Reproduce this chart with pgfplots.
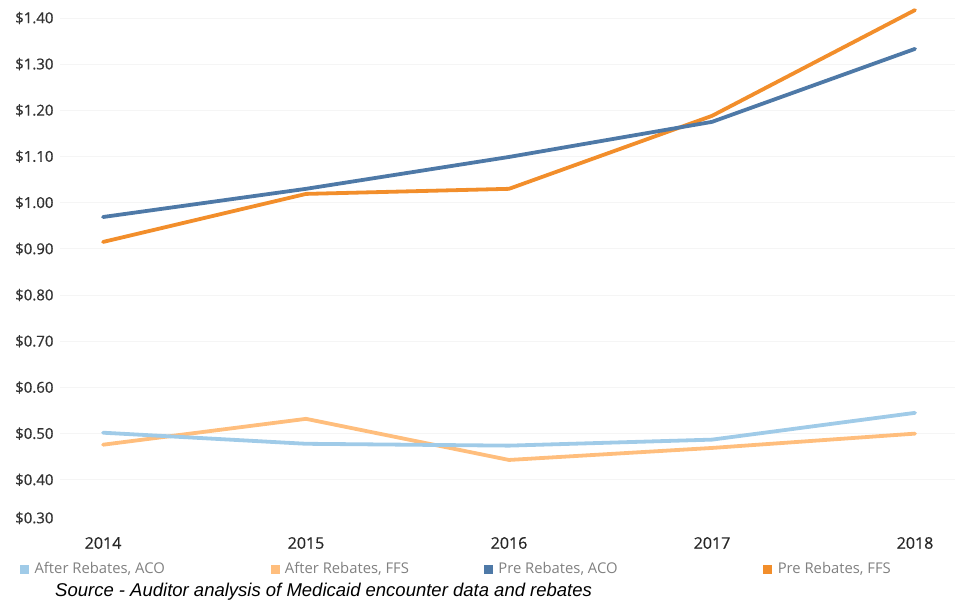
\documentclass[border=0pt]{standalone}
\usepackage{pgfplots}
\pgfplotsset{compat=1.18}
\usepackage{fontspec}
\setmainfont{Open Sans}
\newfontfamily\semib[FakeBold=0.6]{Open Sans}
\newfontfamily\arialfont{Liberation Sans}
\definecolor{cA}{HTML}{A0CBE8}
\definecolor{cB}{HTML}{FFBE7D}
\definecolor{cC}{HTML}{4E79A7}
\definecolor{cD}{HTML}{F28E2B}
\begin{document}
\begin{tikzpicture}
\begin{axis}[
  at={(0pt,0pt)}, anchor=south west,
  scale only axis, width=895pt, height=521pt,
  xmin=2013.788, xmax=2018.197, ymin=0.30, ymax=1.428,
  axis line style={draw=none},
  tick style={draw=none},
  xtick={2014,2015,2016,2017,2018},
  xticklabels={2014,2015,2016,2017,2018},
  xticklabel style={anchor=center, yshift=-17pt, font=\semib\fontsize{16}{18}\selectfont, text=black!85},
  ytick={0.4,0.5,0.6,0.7,0.8,0.9,1.0,1.1,1.2,1.3,1.4},
  yticklabels={\$0.40,\$0.50,\$0.60,\$0.70,\$0.80,\$0.90,\$1.00,\$1.10,\$1.20,\$1.30,\$1.40},
  extra y ticks={0.3}, extra y tick labels={\$0.30},
  extra y tick style={yticklabel style={yshift=8pt}, grid=none},
  ymajorgrids, grid style={color=black!4, line width=0.8pt},
  yticklabel style={anchor=west, xshift=-45pt, inner sep=0pt, font=\semib\fontsize{15}{17}\selectfont, text=black!80},
  legend columns=4,
  legend style={at={(0,0)}, anchor=west, xshift=-40pt, yshift=-43pt, draw=none, fill=none, inner sep=0pt,
    nodes={inner sep=0pt, font=\fontsize{14.8}{16}\selectfont, text=black!50}},
  legend cell align=left,
  legend image code/.code={\fill[#1] (0pt,-4pt) rectangle (8pt,4pt);},
]
\addlegendimage{color=cA}
\addlegendentry{\hspace{6pt}\makebox[236pt][l]{After Rebates, ACO}}
\addlegendimage{color=cB}
\addlegendentry{\hspace{6pt}\makebox[199pt][l]{After Rebates, FFS}}
\addlegendimage{color=cC}
\addlegendentry{\hspace{6pt}\makebox[265pt][l]{Pre Rebates, ACO}}
\addlegendimage{color=cD}
\addlegendentry{\hspace{6pt}Pre Rebates, FFS}

\addplot[color=cB, line width=3.8pt, line cap=round, line join=round, forget plot] coordinates {
 (2014,0.476) (2015,0.532) (2016,0.443) (2017,0.469) (2018,0.500)};
\addplot[color=cA, line width=3.8pt, line cap=round, line join=round, forget plot] coordinates {
 (2014,0.502) (2015,0.478) (2016,0.474) (2017,0.487) (2018,0.545)};
\addplot[color=cD, line width=3.8pt, line cap=round, line join=round, forget plot] coordinates {
 (2014,0.915) (2015,1.019) (2016,1.030) (2017,1.188) (2018,1.417)};
\addplot[color=cC, line width=3.8pt, line cap=round, line join=round, forget plot] coordinates {
 (2014,0.969) (2015,1.030) (2016,1.099) (2017,1.175) (2018,1.333)};
\end{axis}
\node[anchor=west, inner sep=0pt, font=\arialfont\itshape\fontsize{18.5}{20}\selectfont] at (-5pt,-66pt) {Source - Auditor analysis of Medicaid encounter data and rebates};
\pgfresetboundingbox
\path[use as bounding box] (-60pt,-80pt) rectangle (895pt,526pt);
\end{tikzpicture}
\end{document}
